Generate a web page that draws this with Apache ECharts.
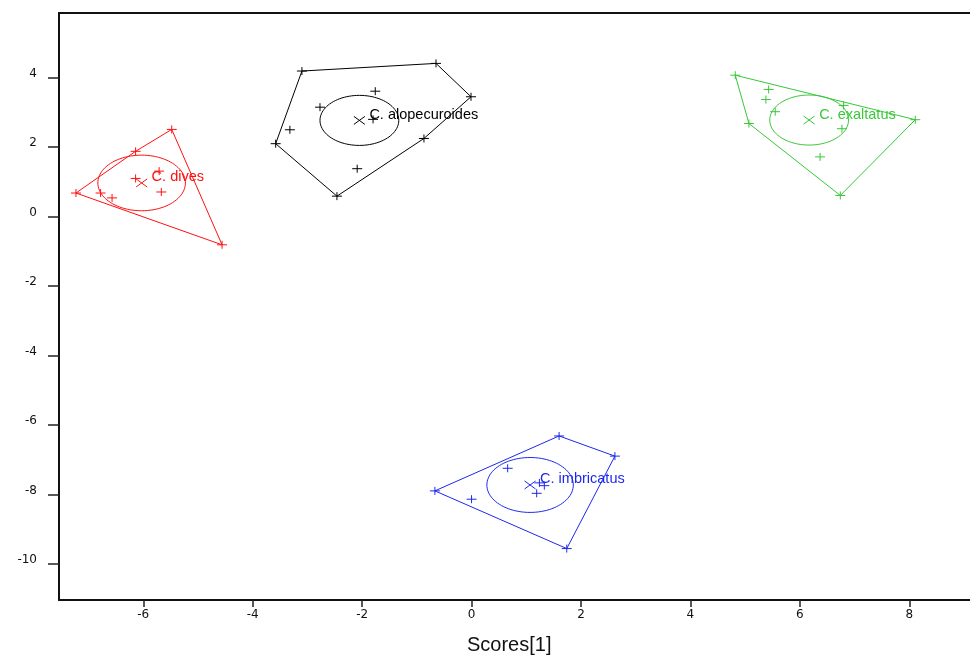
<!DOCTYPE html>
<html>
<head>
<meta charset="utf-8">
<script src="https://cdn.jsdelivr.net/npm/echarts@6/dist/echarts.min.js"></script>
<style>html,body{margin:0;padding:0;background:#fff;}#c{width:970px;height:663px;}</style>
</head>
<body>
<div id="c"></div>
<script>
const xTicks = [-6, -4, -2, 0, 2, 4, 6, 8];
const yTicks = [-10, -8, -6, -4, -2, 0, 2, 4];
const xTitle = 'Scores[1]';

const groupNames = ['C. dives', 'C. alopecuroides', 'C. exaltatus', 'C. imbricatus'];
const groupColors = ['#ff1010', '#000000', '#38c838', '#1c28ee'];

const divesHull = [[-7.23, 0.68], [-6.14, 1.88], [-5.48, 2.51], [-4.56, -0.81]];
const divesInner = [[-6.14, 1.10], [-5.71, 1.31], [-5.67, 0.71], [-6.78, 0.68], [-6.57, 0.54]];
const divesCentre = [-6.03, 0.97];
const divesRadius = 0.80;

const alopHull = [[-3.10, 4.19], [-0.65, 4.41], [-0.01, 3.45], [-0.87, 2.25], [-2.46, 0.59], [-3.58, 2.10]];
const alopInner = [[-1.76, 3.61], [-2.77, 3.15], [-3.32, 2.50], [-1.80, 2.80], [-2.09, 1.38]];
const alopCentre = [-2.05, 2.77];
const alopRadius = 0.72;

const exalHull = [[4.82, 4.07], [8.11, 2.79], [6.74, 0.61], [5.07, 2.68]];
const exalInner = [[5.43, 3.66], [5.38, 3.37], [5.55, 3.02], [6.80, 3.20], [6.77, 2.53], [6.37, 1.72]];
const exalCentre = [6.17, 2.78];
const exalRadius = 0.72;

const imbrHull = [[-0.67, -7.89], [1.60, -6.31], [2.62, -6.89], [1.74, -9.55]];
const imbrInner = [[0.66, -7.24], [0.00, -8.13], [1.24, -7.66], [1.33, -7.74], [1.19, -7.96]];
const imbrCentre = [1.07, -7.72];
const imbrRadius = 0.79;

const hulls = [divesHull, alopHull, exalHull, imbrHull];
const inners = [divesInner, alopInner, exalInner, imbrInner];
const centres = [divesCentre, alopCentre, exalCentre, imbrCentre];
const radii = [divesRadius, alopRadius, exalRadius, imbrRadius];

const chart = echarts.init(document.getElementById('c'), null, {renderer: 'canvas'});

const series = [];
groupNames.forEach(function (name, g) {
  const color = groupColors[g];
  series.push({
    type: 'line',
    data: hulls[g].concat([hulls[g][0]]),
    showSymbol: false,
    symbol: 'none',
    silent: true,
    lineStyle: {color: color, width: 1},
    z: 2
  });
  series.push({
    type: 'custom',
    silent: true,
    data: hulls[g].concat(inners[g]),
    renderItem: function (params, api) {
      const p = api.coord([api.value(0), api.value(1)]);
      const st = {stroke: color, lineWidth: 1};
      return {
        type: 'group',
        children: [
          {type: 'line', shape: {x1: p[0] - 5, y1: p[1], x2: p[0] + 5, y2: p[1]}, style: st},
          {type: 'line', shape: {x1: p[0], y1: p[1] - 4, x2: p[0], y2: p[1] + 4}, style: st}
        ]
      };
    },
    z: 3
  });
  series.push({
    type: 'custom',
    silent: true,
    data: [[centres[g][0], centres[g][1], radii[g]]],
    renderItem: function (params, api) {
      const cx = api.value(0), cy = api.value(1), r = api.value(2);
      const p = api.coord([cx, cy]);
      const rx = api.size([r, 0])[0];
      const ry = api.size([0, r])[1];
      const pts = [];
      for (let i = 0; i < 96; i++) {
        const a = i / 96 * Math.PI * 2;
        pts.push([p[0] + rx * Math.cos(a), p[1] + ry * Math.sin(a)]);
      }
      const st = {stroke: color, lineWidth: 1};
      return {
        type: 'group',
        children: [
          {type: 'polygon', shape: {points: pts}, style: {stroke: color, fill: 'none', lineWidth: 1}},
          {type: 'line', shape: {x1: p[0] - 5.5, y1: p[1] - 4, x2: p[0] + 5.5, y2: p[1] + 4}, style: st},
          {type: 'line', shape: {x1: p[0] - 5.5, y1: p[1] + 4, x2: p[0] + 5.5, y2: p[1] - 4}, style: st},
          {type: 'text', x: p[0] + 10, y: p[1] - 5.5,
           style: {text: name, fill: color, font: '14.5px "Liberation Sans", Arial, sans-serif',
                   align: 'left', verticalAlign: 'middle'}}
        ]
      };
    },
    z: 4
  });
});

const frameLine = {show: true, onZero: false, lineStyle: {color: '#111', width: 2}};

const option = {
  animation: false,
  backgroundColor: '#ffffff',
  grid: {left: 59, top: 13, right: 0, bottom: 63, show: false},
  xAxis: [{
    type: 'value',
    position: 'bottom',
    min: -7.54, max: 9.11,
    axisLine: frameLine,
    splitLine: {show: false},
    axisTick: {show: true, length: 7, customValues: xTicks, lineStyle: {color: '#222', width: 1.5}},
    axisLabel: {customValues: xTicks, margin: 9, color: '#111',
                fontFamily: 'DejaVu Sans', fontSize: 12}
  }, {
    type: 'value',
    position: 'top',
    min: -7.54, max: 9.11,
    axisLine: frameLine,
    splitLine: {show: false},
    axisTick: {show: false},
    axisLabel: {show: false}
  }],
  yAxis: {
    type: 'value',
    position: 'left',
    min: -11.03, max: 5.86,
    axisLine: frameLine,
    splitLine: {show: false},
    axisTick: {show: true, length: 11, customValues: yTicks, lineStyle: {color: '#222', width: 1.5}},
    axisLabel: {customValues: yTicks, margin: 22, color: '#111',
                fontFamily: 'DejaVu Sans', fontSize: 12, verticalAlign: 'bottom', lineHeight: 8}
  },
  graphic: [{
    type: 'text', left: 467, top: 635,
    style: {text: xTitle, fill: '#111', font: '20px "Liberation Sans", Arial, sans-serif'}
  }],
  series: series
};
chart.setOption(option);
</script>
</body>
</html>
